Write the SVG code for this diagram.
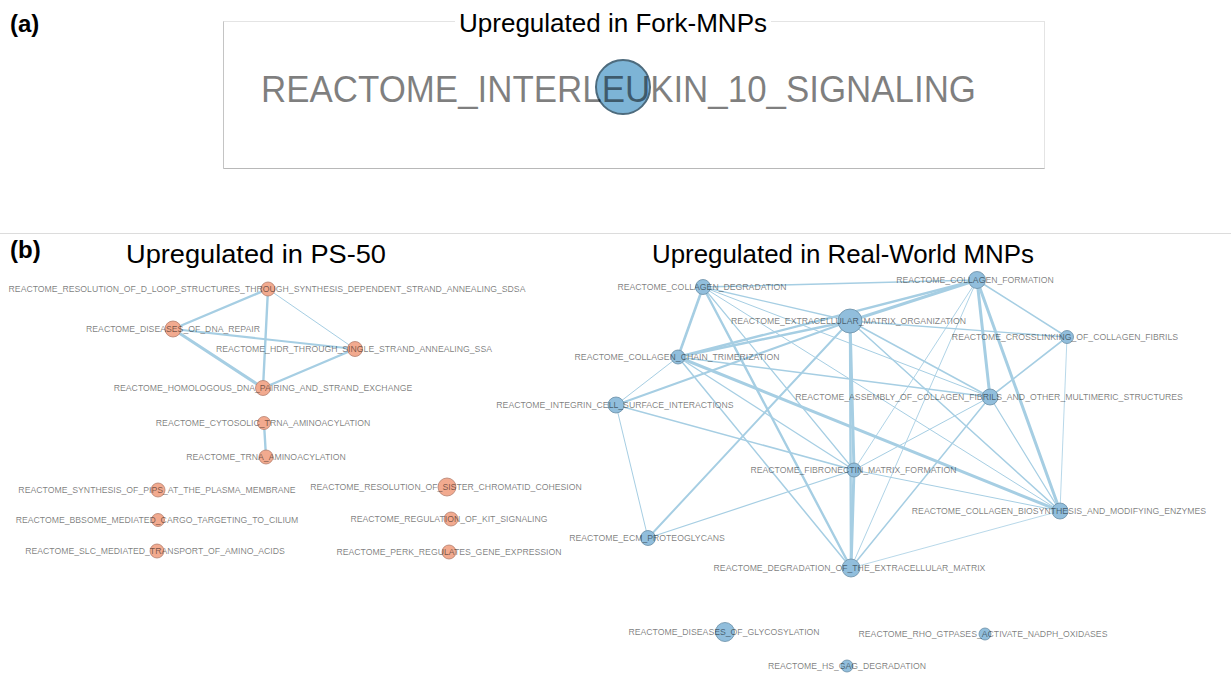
<svg xmlns="http://www.w3.org/2000/svg" width="1231" height="696" viewBox="0 0 1231 696">
<style>
text{font-family:"Liberation Sans",Arial,sans-serif}
.panel{font-weight:bold;font-size:24px;fill:#000}
.title{font-size:26px;fill:#000;text-anchor:middle}
.lbl{font-size:8.7px;fill:#000;fill-opacity:0.52;text-anchor:middle}
.o{fill:#f2aa8f;stroke:#b5806f;stroke-width:0.8}
.b{fill:#91bedc;stroke:#6a8ea6;stroke-width:0.8}
.e{stroke:#a6cee3;fill:none;stroke-linecap:round}
</style>
<rect width="1231" height="696" fill="#fff"/>
<text class="panel" x="10" y="32">(a)</text>
<text class="panel" x="10" y="258">(b)</text>
<line x1="0" y1="233.5" x2="1231" y2="233.5" stroke="#dcdcdc" stroke-width="1"/>
<g id="panel-a">
<rect x="223.5" y="21.5" width="821" height="147" fill="#fff" stroke="#e4e4e4" stroke-width="1"/>
<line x1="223.5" y1="168.5" x2="1044.5" y2="168.5" stroke="#b8b8b8" stroke-width="1"/>
<line x1="223.5" y1="21.5" x2="223.5" y2="168.5" stroke="#c4c4c4" stroke-width="1"/>
<rect x="455" y="8" width="316" height="28" fill="#fff"/>
<text class="title" x="613" y="32" textLength="308" lengthAdjust="spacingAndGlyphs">Upregulated in Fork-MNPs</text>
<g id="node-il10">
<circle cx="623" cy="87" r="27" fill="#7db4d6" stroke="#4d6b7d" stroke-width="2"/>
<text x="618.5" y="102" font-size="36" fill="#000" fill-opacity="0.5" text-anchor="middle" textLength="715" lengthAdjust="spacingAndGlyphs">REACTOME_INTERLEUKIN_10_SIGNALING</text>
</g>
</g>
<text class="title" x="256" y="263" textLength="260" lengthAdjust="spacingAndGlyphs">Upregulated in PS-50</text>
<text class="title" x="843" y="263" textLength="382" lengthAdjust="spacingAndGlyphs">Upregulated in Real-World MNPs</text>
<g id="connectors">
<line class="e" x1="268" y1="289" x2="173" y2="329" stroke-width="2.4"/>
<line class="e" x1="268" y1="289" x2="355" y2="349" stroke-width="1"/>
<line class="e" x1="268" y1="289" x2="263" y2="388" stroke-width="2.4"/>
<line class="e" x1="173" y1="329" x2="355" y2="349" stroke-width="2"/>
<line class="e" x1="173" y1="329" x2="263" y2="388" stroke-width="3"/>
<line class="e" x1="355" y1="349" x2="263" y2="388" stroke-width="2.4"/>
<line class="e" x1="264" y1="423" x2="266" y2="457" stroke-width="2.4"/>
<line class="e" x1="703" y1="287" x2="977" y2="280" stroke-width="1.4"/>
<line class="e" x1="703" y1="287" x2="678" y2="357" stroke-width="2.6"/>
<line class="e" x1="703" y1="287" x2="850" y2="321" stroke-width="1.4"/>
<line class="e" x1="703" y1="287" x2="990" y2="397" stroke-width="1"/>
<line class="e" x1="703" y1="287" x2="854" y2="470" stroke-width="1.2"/>
<line class="e" x1="703" y1="287" x2="851" y2="568" stroke-width="2.4"/>
<line class="e" x1="703" y1="287" x2="1060" y2="511" stroke-width="1"/>
<line class="e" x1="977" y1="280" x2="850" y2="321" stroke-width="3"/>
<line class="e" x1="977" y1="280" x2="678" y2="357" stroke-width="2.4"/>
<line class="e" x1="977" y1="280" x2="990" y2="397" stroke-width="3"/>
<line class="e" x1="977" y1="280" x2="1060" y2="511" stroke-width="3"/>
<line class="e" x1="977" y1="280" x2="1067" y2="337" stroke-width="1.5"/>
<line class="e" x1="977" y1="280" x2="854" y2="470" stroke-width="0.9"/>
<line class="e" x1="977" y1="280" x2="851" y2="568" stroke-width="0.9"/>
<line class="e" x1="850" y1="321" x2="678" y2="357" stroke-width="2.4"/>
<line class="e" x1="850" y1="321" x2="616" y2="405" stroke-width="2"/>
<line class="e" x1="850" y1="321" x2="1067" y2="337" stroke-width="1.4"/>
<line class="e" x1="850" y1="321" x2="990" y2="397" stroke-width="1.5"/>
<line class="e" x1="850" y1="321" x2="1060" y2="511" stroke-width="1.5"/>
<line class="e" x1="850" y1="321" x2="854" y2="470" stroke-width="3"/>
<line class="e" x1="850" y1="321" x2="851" y2="568" stroke-width="2.4"/>
<line class="e" x1="850" y1="321" x2="648" y2="538" stroke-width="2"/>
<line class="e" x1="678" y1="357" x2="616" y2="405" stroke-width="1"/>
<line class="e" x1="678" y1="357" x2="990" y2="397" stroke-width="1.6"/>
<line class="e" x1="678" y1="357" x2="1060" y2="511" stroke-width="3"/>
<line class="e" x1="678" y1="357" x2="854" y2="470" stroke-width="1.2"/>
<line class="e" x1="678" y1="357" x2="851" y2="568" stroke-width="1.5"/>
<line class="e" x1="616" y1="405" x2="854" y2="470" stroke-width="1.5"/>
<line class="e" x1="616" y1="405" x2="648" y2="538" stroke-width="1"/>
<line class="e" x1="1067" y1="337" x2="990" y2="397" stroke-width="1.6"/>
<line class="e" x1="1067" y1="337" x2="1060" y2="511" stroke-width="0.8"/>
<line class="e" x1="990" y1="397" x2="854" y2="470" stroke-width="1"/>
<line class="e" x1="990" y1="397" x2="851" y2="568" stroke-width="1.5"/>
<line class="e" x1="990" y1="397" x2="1060" y2="511" stroke-width="1.2"/>
<line class="e" x1="854" y1="470" x2="851" y2="568" stroke-width="3"/>
<line class="e" x1="854" y1="470" x2="1060" y2="511" stroke-width="1"/>
<line class="e" x1="854" y1="470" x2="648" y2="538" stroke-width="1.2"/>
<line class="e" x1="851" y1="568" x2="1060" y2="511" stroke-width="0.8"/>
</g>
<g id="n-dloop"><circle class="o" cx="268" cy="289" r="7"/><text class="lbl" x="267" y="292.1">REACTOME_RESOLUTION_OF_D_LOOP_STRUCTURES_THROUGH_SYNTHESIS_DEPENDENT_STRAND_ANNEALING_SDSA</text></g>
<g id="n-dnarepair"><circle class="o" cx="173" cy="329" r="8"/><text class="lbl" x="173" y="332.1">REACTOME_DISEASES_OF_DNA_REPAIR</text></g>
<g id="n-hdrssa"><circle class="o" cx="355" cy="349" r="7.5"/><text class="lbl" x="354" y="352.1">REACTOME_HDR_THROUGH_SINGLE_STRAND_ANNEALING_SSA</text></g>
<g id="n-homologous"><circle class="o" cx="263" cy="388" r="7.5"/><text class="lbl" x="263" y="391.1">REACTOME_HOMOLOGOUS_DNA_PAIRING_AND_STRAND_EXCHANGE</text></g>
<g id="n-cytosolic"><circle class="o" cx="264" cy="423" r="6.5"/><text class="lbl" x="263" y="426.1">REACTOME_CYTOSOLIC_TRNA_AMINOACYLATION</text></g>
<g id="n-trna"><circle class="o" cx="266" cy="457" r="7"/><text class="lbl" x="266" y="460.1">REACTOME_TRNA_AMINOACYLATION</text></g>
<g id="n-pips"><circle class="o" cx="158" cy="490" r="7"/><text class="lbl" x="157" y="493.1">REACTOME_SYNTHESIS_OF_PIPS_AT_THE_PLASMA_MEMBRANE</text></g>
<g id="n-bbsome"><circle class="o" cx="158" cy="520" r="6.5"/><text class="lbl" x="157" y="523.1">REACTOME_BBSOME_MEDIATED_CARGO_TARGETING_TO_CILIUM</text></g>
<g id="n-slc"><circle class="o" cx="157" cy="551" r="7"/><text class="lbl" x="155" y="554.1">REACTOME_SLC_MEDIATED_TRANSPORT_OF_AMINO_ACIDS</text></g>
<g id="n-sister"><circle class="o" cx="447" cy="487" r="9"/><text class="lbl" x="446" y="490.1">REACTOME_RESOLUTION_OF_SISTER_CHROMATID_COHESION</text></g>
<g id="n-kit"><circle class="o" cx="451" cy="519" r="7"/><text class="lbl" x="449" y="522.1">REACTOME_REGULATION_OF_KIT_SIGNALING</text></g>
<g id="n-perk"><circle class="o" cx="449" cy="552" r="7"/><text class="lbl" x="449" y="555.1">REACTOME_PERK_REGULATES_GENE_EXPRESSION</text></g>
<g id="n-colldeg"><circle class="b" cx="703" cy="287" r="7.5"/><text class="lbl" x="702" y="290.1">REACTOME_COLLAGEN_DEGRADATION</text></g>
<g id="n-collform"><circle class="b" cx="977" cy="280" r="8.5"/><text class="lbl" x="975" y="283.1">REACTOME_COLLAGEN_FORMATION</text></g>
<g id="n-ecmorg"><circle class="b" cx="850" cy="321" r="12"/><text class="lbl" x="848.5" y="324.1">REACTOME_EXTRACELLULAR_MATRIX_ORGANIZATION</text></g>
<g id="n-crosslink"><circle class="b" cx="1067" cy="337" r="6.5"/><text class="lbl" x="1065" y="340.1">REACTOME_CROSSLINKING_OF_COLLAGEN_FIBRILS</text></g>
<g id="n-chaintrim"><circle class="b" cx="678" cy="357" r="7"/><text class="lbl" x="677" y="360.1">REACTOME_COLLAGEN_CHAIN_TRIMERIZATION</text></g>
<g id="n-integrin"><circle class="b" cx="616" cy="405" r="8"/><text class="lbl" x="615" y="408.1">REACTOME_INTEGRIN_CELL_SURFACE_INTERACTIONS</text></g>
<g id="n-assembly"><circle class="b" cx="990" cy="397" r="8"/><text class="lbl" x="989" y="400.1">REACTOME_ASSEMBLY_OF_COLLAGEN_FIBRILS_AND_OTHER_MULTIMERIC_STRUCTURES</text></g>
<g id="n-fibronectin"><circle class="b" cx="854" cy="470" r="7"/><text class="lbl" x="853.5" y="473.1">REACTOME_FIBRONECTIN_MATRIX_FORMATION</text></g>
<g id="n-biosynth"><circle class="b" cx="1060" cy="511" r="8"/><text class="lbl" x="1059" y="514.1">REACTOME_COLLAGEN_BIOSYNTHESIS_AND_MODIFYING_ENZYMES</text></g>
<g id="n-proteoglycans"><circle class="b" cx="648" cy="538" r="7.5"/><text class="lbl" x="647" y="541.1">REACTOME_ECM_PROTEOGLYCANS</text></g>
<g id="n-degecm"><circle class="b" cx="851" cy="568" r="9"/><text class="lbl" x="849.5" y="571.1">REACTOME_DEGRADATION_OF_THE_EXTRACELLULAR_MATRIX</text></g>
<g id="n-glyco"><circle class="b" cx="725" cy="632" r="9.5"/><text class="lbl" x="724" y="635.1">REACTOME_DISEASES_OF_GLYCOSYLATION</text></g>
<g id="n-rho"><circle class="b" cx="985" cy="634" r="6"/><text class="lbl" x="983" y="637.1">REACTOME_RHO_GTPASES_ACTIVATE_NADPH_OXIDASES</text></g>
<g id="n-hsgag"><circle class="b" cx="847" cy="666" r="6"/><text class="lbl" x="847" y="669.1">REACTOME_HS_GAG_DEGRADATION</text></g>
</svg>
